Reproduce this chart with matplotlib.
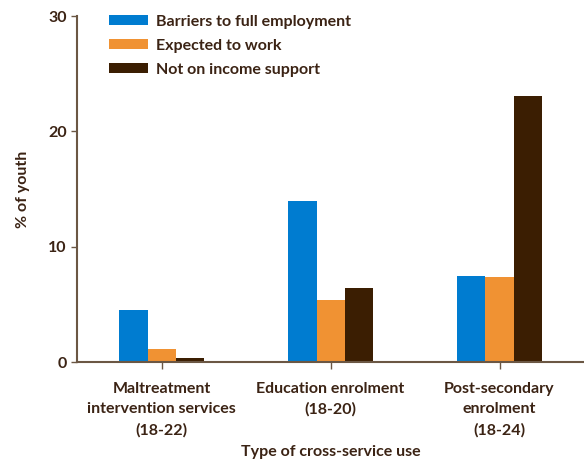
import numpy as np
import matplotlib.pyplot as plt

plt.rcParams['font.family'] = ['Lato', 'DejaVu Sans']
plt.rcParams['font.weight'] = 'bold'
plt.rcParams['axes.labelweight'] = 'bold'

categories = ['Maltreatment\nintervention services\n(18-22)',
              'Education enrolment\n(18-20)',
              'Post-secondary\nenrolment\n(18-24)']
series = ['Barriers to full employment', 'Expected to work', 'Not on income support']
barriers = [4.5, 14.0, 7.5]
expected = [1.1, 5.4, 7.4]
not_support = [0.4, 6.4, 23.1]

colors = ['#007CD0', '#F09233', '#3B1E02']
txt = '#3B2314'
axcol = '#6B5744'
fs = 11.5

fig = plt.figure(figsize=(5.84, 4.59), dpi=100)
ax = fig.add_axes([0.132, 0.211, 0.868, 0.754])

x = np.arange(len(categories))
w = 0.166
for i, vals in enumerate([barriers, expected, not_support]):
    ax.bar(x + (i - 1) * w, vals, w, color=colors[i], label=series[i])

ax.set_xlim(-0.5, 2.5)
ax.set_ylim(0, 30)
ax.set_yticks([0, 10, 20, 30])
ax.set_xticks(x)
ax.set_xticklabels(categories, fontsize=fs, color=txt, linespacing=1.58)
ax.tick_params(axis='y', labelsize=fs, labelcolor=txt, color=axcol, length=4, width=1)
ax.tick_params(axis='x', color=axcol, length=5, width=1, pad=9)

for s in ['top', 'right']:
    ax.spines[s].set_visible(False)
for s in ['left', 'bottom']:
    ax.spines[s].set_color(axcol)
    ax.spines[s].set_linewidth(1.5)

ax.set_ylabel('% of youth', fontsize=fs, color=txt, labelpad=13)
ax.set_xlabel('Type of cross-service use', fontsize=fs, color=txt, labelpad=6)

leg = ax.legend(loc='upper left', bbox_to_anchor=(0.035, 1.045), frameon=False,
                fontsize=fs, handlelength=2.4, handleheight=0.6,
                labelspacing=0.62, handletextpad=0.55)
for t in leg.get_texts():
    t.set_color(txt)

fig.savefig('out.png', dpi=100)
